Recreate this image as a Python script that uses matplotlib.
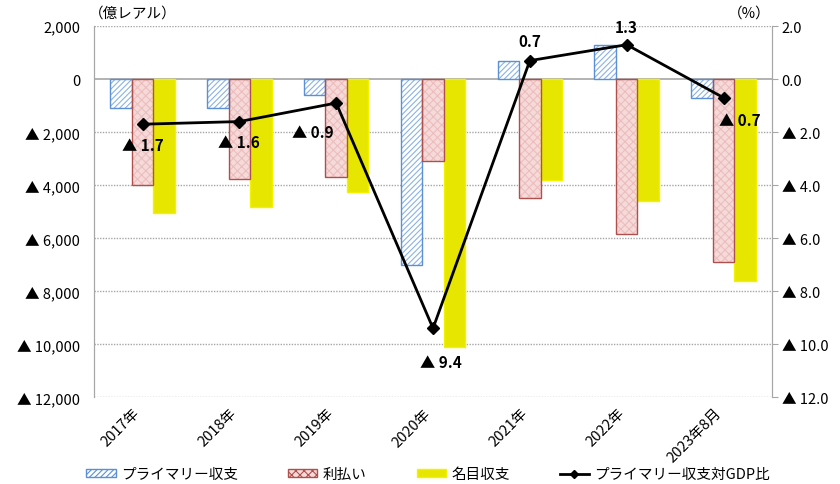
import numpy as np
import matplotlib
matplotlib.use('Agg')
import matplotlib.pyplot as plt
import matplotlib.transforms as mtransforms
from matplotlib.lines import Line2D
from matplotlib.patches import Patch
from matplotlib.ticker import FuncFormatter

plt.rcParams['font.family'] = ['Noto Sans CJK JP', 'DejaVu Sans']
plt.rcParams['hatch.linewidth'] = 0.8

# 単位: 億レアル / %
years = ['2017年', '2018年', '2019年', '2020年', '2021年', '2022年', '2023年8月']
primary = [-1100, -1100, -600, -7020, 680, 1280, -720]
interest = [-4000, -3770, -3700, -3090, -4490, -5850, -6900]
nominal = [-5060, -4830, -4270, -10110, -3810, -4600, -7620]
gdp_ratio = [-1.7, -1.6, -0.9, -9.4, 0.7, 1.3, -0.7]

# ラベル位置 (点からのずれ, pt)
lbl_offset = [(0, -15), (0, -15), (-17, -21), (6, -24), (0, 14), (0, 13), (12, -16)]

fig = plt.figure(figsize=(8.4, 4.85), dpi=100)
ax = fig.add_axes([0.112, 0.179, 0.807, 0.765])
ax2 = ax.twinx()

x = np.arange(len(years))
w = 0.222

blue = '#5b8fd6'
red_edge = '#b0504c'
yellow = '#e6e600'

# プライマリー収支 (斜線)
ax.bar(x - w, primary, w, color='white', edgecolor='#8ab2e4', hatch='//////', linewidth=0, zorder=3)
ax.bar(x - w, primary, w, color='none', edgecolor=blue, linewidth=1.0, zorder=4)
# 利払い (網目)
ax.bar(x, interest, w, color='#f6dada', edgecolor='#ecbdbd', hatch='xxxx', linewidth=0, zorder=3)
ax.bar(x, interest, w, color='none', edgecolor=red_edge, linewidth=1.0, zorder=4)
# 名目収支
ax.bar(x + w, nominal, w, color=yellow, edgecolor='#f2f200', linewidth=1.0, zorder=3)

ax.set_xlim(-0.5, len(years) - 0.5)
ax.set_ylim(-12000, 2000)
ax.set_yticks(np.arange(-12000, 2001, 2000))
ax2.set_ylim(-12, 2)
ax2.set_yticks(np.arange(-12, 2.1, 2))


def fmt_left(v, pos):
    if v < 0:
        return '▲ {:,.0f}'.format(-v)
    return '{:,.0f}'.format(v)


def fmt_right(v, pos):
    if v < -1e-9:
        return '▲ {:.1f}'.format(-v)
    return '{:.1f}'.format(abs(v))


ax.yaxis.set_major_formatter(FuncFormatter(fmt_left))
ax2.yaxis.set_major_formatter(FuncFormatter(fmt_right))

for yv in np.arange(-12000, 2001, 2000):
    if yv == 0:
        ax.axhline(0, color='#a6a6a6', lw=1.2, zorder=2)
    else:
        ax.axhline(yv, color='#a6a6a6', lw=1.0, ls=(0, (1, 1)), zorder=1)

ax.set_xticks(x)
ax.set_xticklabels(years, rotation=45, ha='right', rotation_mode='anchor', fontsize=10.5)
ax.tick_params(axis='x', length=0, pad=6)
shift = mtransforms.ScaledTranslation(-7 / 72, 0, fig.dpi_scale_trans)
for t in ax.get_xticklabels():
    t.set_transform(t.get_transform() + shift)
ax.tick_params(axis='y', length=0, labelsize=10.5, pad=10)
ax2.tick_params(axis='y', length=4, color='#a6a6a6', labelsize=10.5, pad=3)

for a in (ax, ax2):
    a.spines['top'].set_visible(False)
    a.spines['bottom'].set_visible(False)
    a.spines['left'].set_color('#a6a6a6')
    a.spines['right'].set_color('#a6a6a6')

# プライマリー収支対GDP比
ax2.plot(x, gdp_ratio, color='black', lw=2, marker='D', markersize=6.5, zorder=5)
for xi, v, (dx, dy) in zip(x, gdp_ratio, lbl_offset):
    s = '▲ {:.1f}'.format(-v) if v < 0 else '{:.1f}'.format(v)
    ax2.annotate(s, (xi, v), xytext=(dx, dy), textcoords='offset points',
                 ha='center', va='center', fontsize=11, fontweight='bold', zorder=6)

ax.set_zorder(ax2.get_zorder() - 1)
ax.patch.set_visible(True)
ax2.patch.set_visible(False)

fig.text(0.106, 0.972, '（億レアル）', fontsize=10.5, ha='left', va='center')
fig.text(0.918, 0.972, '（%）', fontsize=10.5, ha='right', va='center')

handles = [
    Patch(facecolor='white', edgecolor=blue, hatch='//////'),
    Patch(facecolor='#f6dada', edgecolor=red_edge, hatch='xxxx'),
    Patch(facecolor=yellow, edgecolor='#f2f200'),
    Line2D([], [], color='black', lw=2, marker='D', markersize=4),
]
labels = ['プライマリー収支', '利払い', '名目収支', 'プライマリー収支対GDP比']
fig.legend(handles, labels, loc='center', bbox_to_anchor=(0.51, 0.02), ncol=4,
           frameon=False, fontsize=10.5, handlelength=2.0, handleheight=0.5,
           handletextpad=0.4, columnspacing=3.4, borderpad=0.1)

fig.savefig('out.png', dpi=100)
